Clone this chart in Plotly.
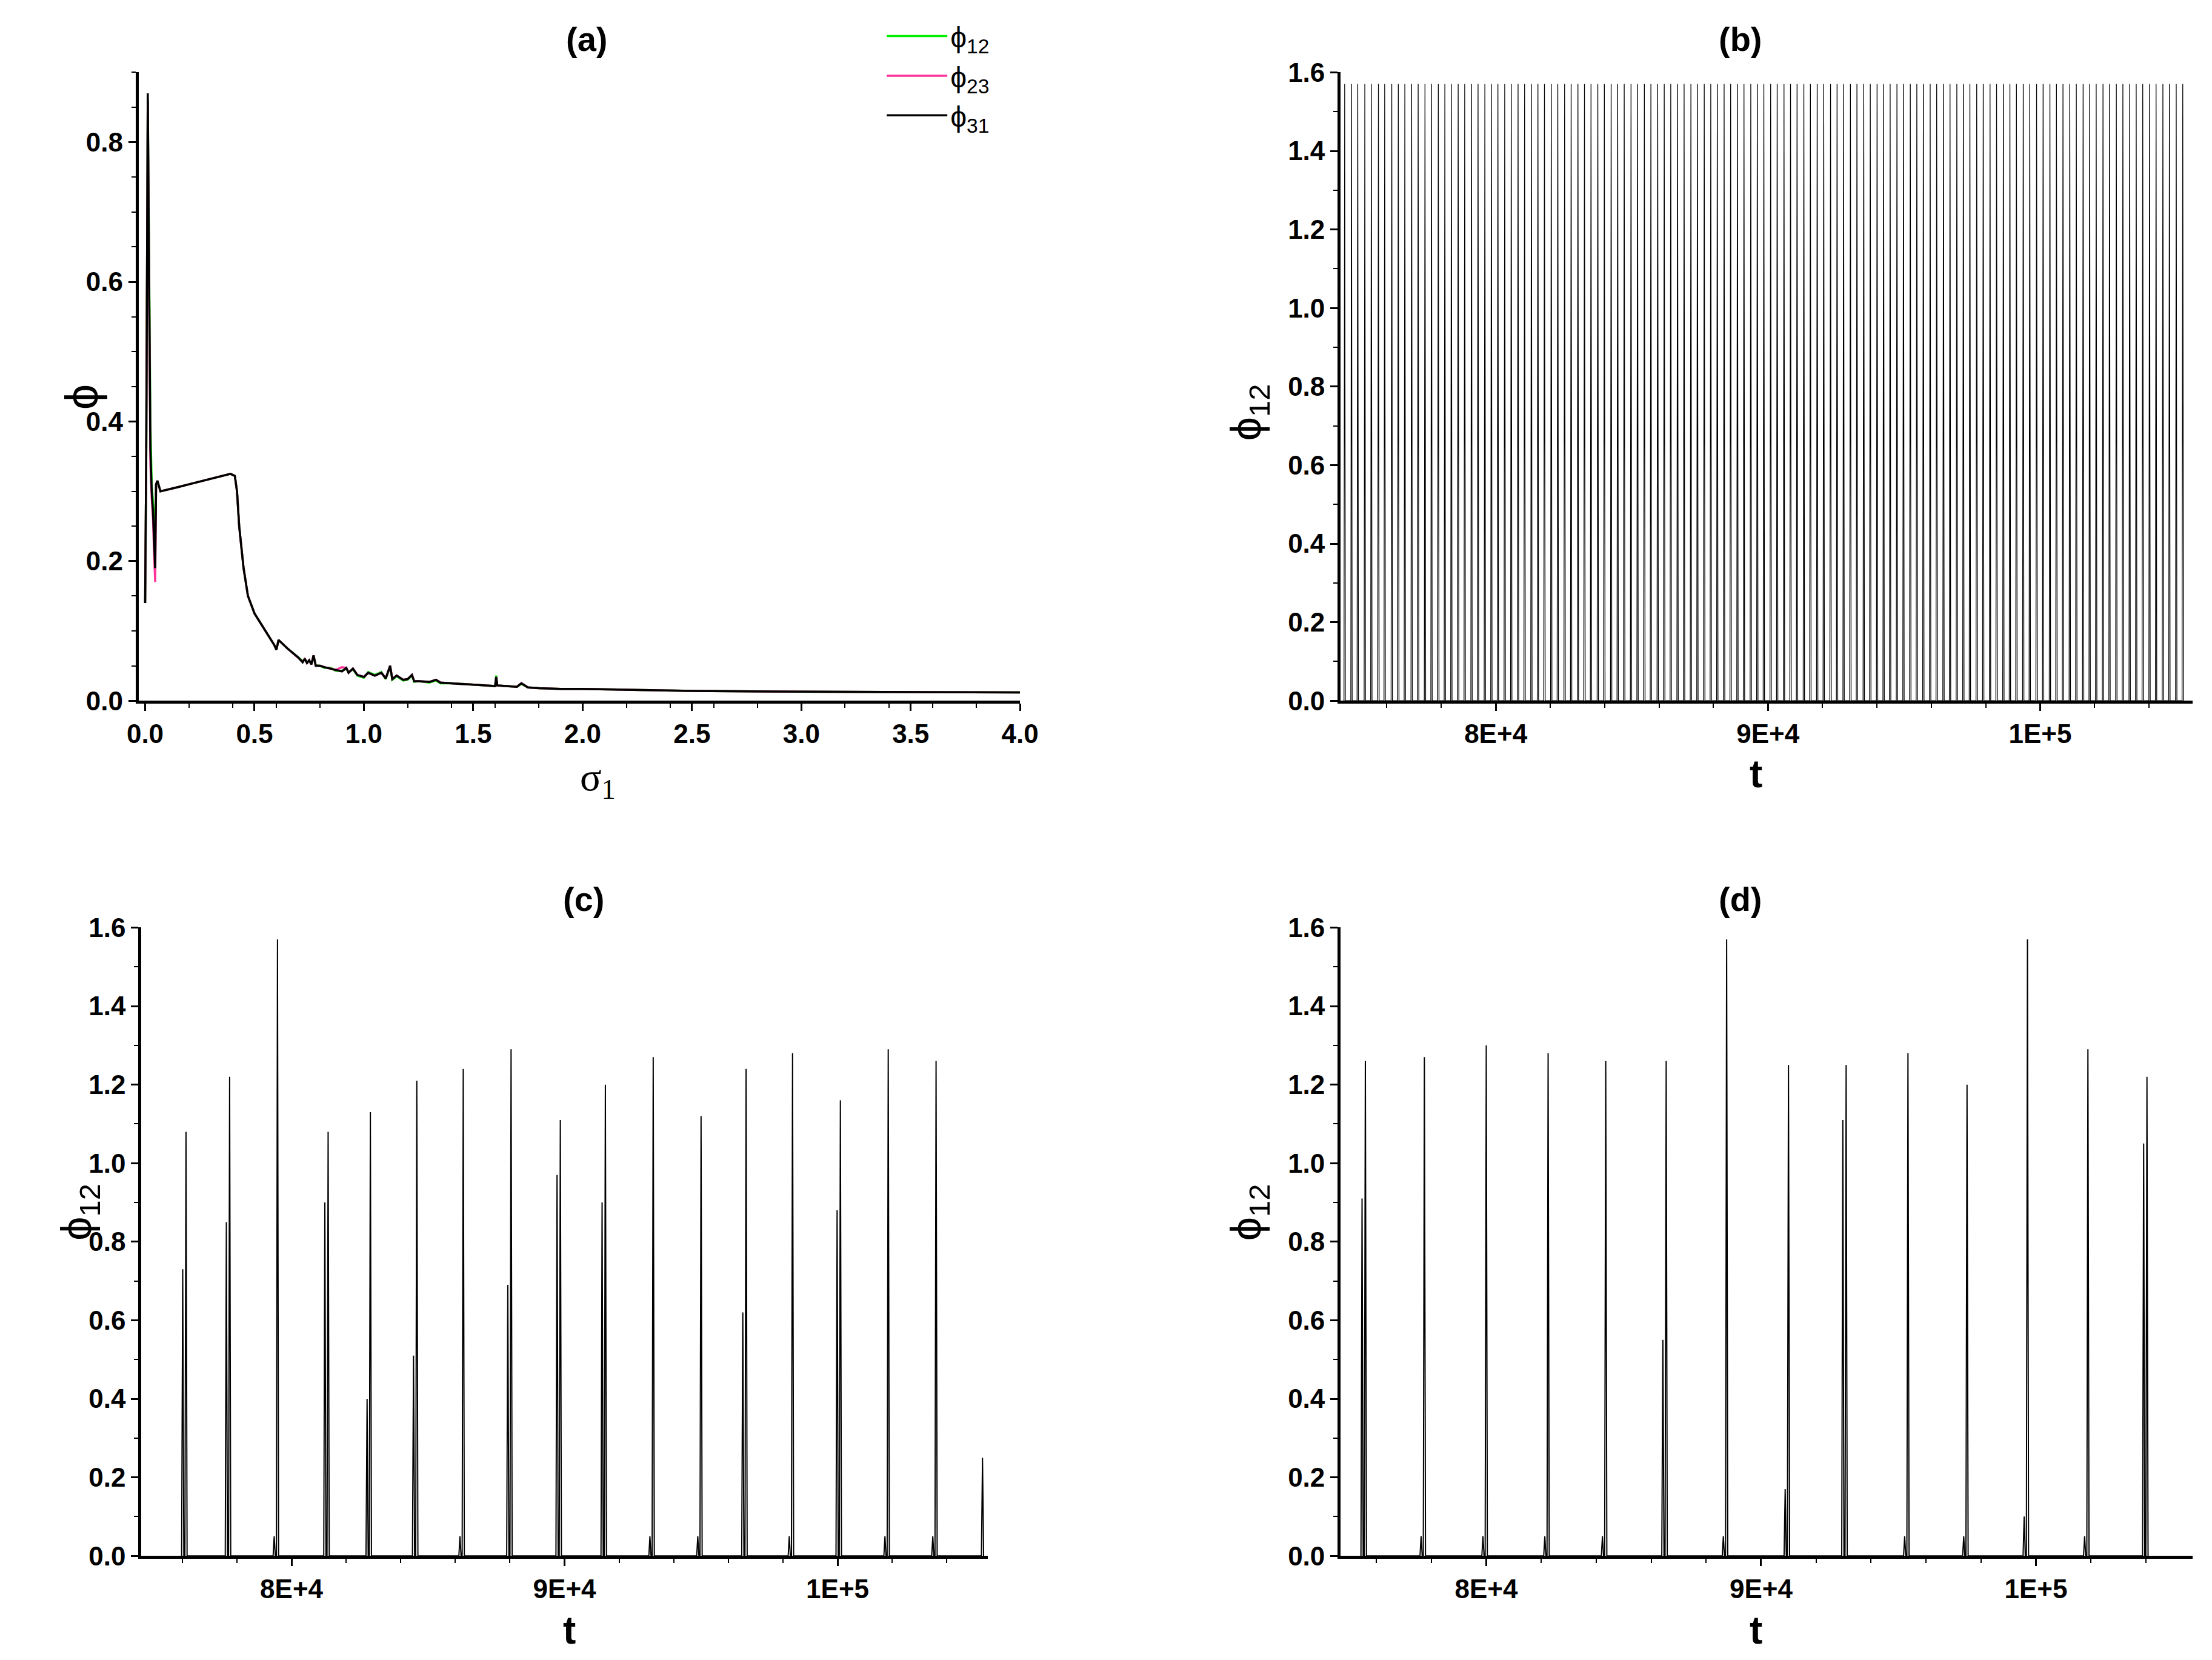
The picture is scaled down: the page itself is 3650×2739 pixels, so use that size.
import plotly.graph_objects as go

# Panel (a)
sig = [0.0,0.005,0.012,0.018,0.024,0.03,0.036,0.042,0.046,0.05,0.056,0.07,0.1,0.15,0.2,0.25,0.3,0.35,0.39,0.41,0.42,0.43,0.45,0.47,0.5,0.55,0.59,0.6,0.61,0.65,0.7,0.72,0.73,0.74,0.75,0.76,0.77,0.78,0.8,0.82,0.85,0.87,0.9,0.92,0.93,0.95,0.97,1.0,1.02,1.05,1.08,1.1,1.12,1.13,1.15,1.18,1.2,1.22,1.23,1.25,1.3,1.33,1.35,1.4,1.45,1.5,1.55,1.6,1.605,1.61,1.65,1.7,1.72,1.75,1.8,1.9,2.0,2.2,2.5,3.0,3.5,4.0]
phi31 = [0.14,0.35,0.87,0.60,0.36,0.30,0.27,0.22,0.19,0.31,0.315,0.30,0.302,0.306,0.31,0.314,0.318,0.322,0.325,0.322,0.30,0.25,0.19,0.15,0.125,0.10,0.08,0.073,0.087,0.075,0.062,0.055,0.06,0.054,0.058,0.052,0.065,0.05,0.05,0.048,0.046,0.044,0.042,0.047,0.040,0.046,0.037,0.034,0.040,0.036,0.040,0.032,0.050,0.031,0.036,0.030,0.031,0.037,0.028,0.028,0.027,0.030,0.026,0.025,0.024,0.023,0.022,0.021,0.034,0.022,0.021,0.020,0.025,0.019,0.018,0.017,0.017,0.016,0.014,0.013,0.0125,0.012]
phi12 = [0.14,0.35,0.86,0.62,0.40,0.31,0.28,0.26,0.24,0.31,0.315,0.30,0.302,0.306,0.31,0.314,0.318,0.322,0.325,0.322,0.30,0.25,0.19,0.15,0.125,0.10,0.08,0.073,0.087,0.075,0.062,0.057,0.06,0.055,0.057,0.053,0.064,0.051,0.05,0.047,0.047,0.043,0.043,0.046,0.041,0.045,0.036,0.033,0.041,0.037,0.041,0.031,0.049,0.030,0.035,0.029,0.030,0.036,0.027,0.028,0.026,0.029,0.025,0.025,0.024,0.023,0.022,0.021,0.036,0.022,0.021,0.020,0.024,0.019,0.018,0.017,0.017,0.016,0.014,0.013,0.0125,0.012]
phi23 = [0.14,0.35,0.86,0.58,0.34,0.29,0.26,0.20,0.17,0.31,0.315,0.30,0.302,0.306,0.31,0.314,0.318,0.322,0.325,0.322,0.30,0.25,0.19,0.15,0.125,0.10,0.08,0.073,0.087,0.075,0.062,0.056,0.06,0.054,0.058,0.052,0.065,0.05,0.05,0.048,0.046,0.044,0.048,0.047,0.040,0.046,0.037,0.034,0.040,0.036,0.040,0.032,0.050,0.031,0.036,0.030,0.031,0.037,0.028,0.028,0.027,0.030,0.026,0.025,0.024,0.023,0.022,0.021,0.034,0.022,0.021,0.020,0.025,0.019,0.018,0.017,0.017,0.016,0.014,0.013,0.0125,0.012]

# Panel (b): peak times, all peaks reach pi/2
b_peaks = [74450,74700,74930,75190,75430,75690,75920,76180,76420,76660,76910,77150,77400,77640,77890,78130,78370,78620,78860,79110,79350,79600,79840,80080,80330,80570,80820,81060,81310,81550,81790,82040,82280,82530,82770,83020,83260,83500,83750,83990,84240,84480,84720,84970,85210,85460,85700,85950,86190,86430,86680,86920,87170,87410,87660,87900,88140,88390,88630,88880,89120,89370,89610,89850,90100,90340,90590,90830,91070,91320,91560,91810,92050,92300,92540,92780,93030,93270,93520,93760,94010,94250,94490,94740,94980,95230,95470,95710,95960,96200,96450,96690,96940,97180,97420,97670,97910,98160,98400,98650,98890,99130,99380,99620,99870,100110,100360,100600,100840,101090,101330,101580,101820,102060,102310,102550,102800,103040,103290,103530,103770,104020,104260,104510,104750,105000,105240]
b_height = 1.5708

# Panel (c)
c_peaks = [76134,77732,79485,81340,82887,84588,86289,88041,89845,91495,93247,95000,96649,98351,100103,101856,103608,105309]
c_heights = [1.08,1.22,1.57,1.08,1.13,1.21,1.24,1.29,1.11,1.20,1.27,1.12,1.24,1.28,1.16,1.29,1.26,0.25]
c_second = [0.73,0.85,0.05,0.90,0.40,0.51,0.05,0.69,0.97,0.90,0.05,0.05,0.62,0.05,0.88,0.05,0.05,0.0]
# Panel (d)
d_peaks = [75601,77749,80000,82251,84348,86547,88747,90997,93095,95345,97494,99693,101893,104041]
d_heights = [1.26,1.27,1.30,1.28,1.26,1.26,1.57,1.25,1.25,1.28,1.20,1.57,1.29,1.22]
d_second = [0.91,0.05,0.05,0.05,0.05,0.55,0.05,0.17,1.11,0.05,0.05,0.10,0.05,1.05]

def spikes(peaks, heights, second, w):
    xs, ys = [], []
    for i, p in enumerate(peaks):
        s = second[i] if second else 0
        if s > 0:
            xs += [p-4*w, p-3*w, p-2*w]; ys += [0, s, 0]
        xs += [p-w, p, p+w]; ys += [0, heights[i], 0]
    return xs, ys

def PX(xr): return ((xr-8.5)/0.9945)/1560
def PY(yr): return 1-((yr-12.8)/0.9807)/1180

fig = go.Figure()
blk = dict(color="black", width=2)
fig.add_trace(go.Scatter(x=sig, y=phi12, mode="lines", name="ϕ<sub>12</sub>", line=dict(color="#00ee00", width=3.5), xaxis="x", yaxis="y"))
fig.add_trace(go.Scatter(x=sig, y=phi23, mode="lines", name="ϕ<sub>23</sub>", line=dict(color="#ff3399", width=3.5), xaxis="x", yaxis="y"))
fig.add_trace(go.Scatter(x=sig, y=phi31, mode="lines", name="ϕ<sub>31</sub>", line=dict(color="black", width=3.5), xaxis="x", yaxis="y"))
bx, by = spikes(b_peaks, [b_height]*len(b_peaks), None, 25)
fig.add_trace(go.Scatter(x=bx, y=by, mode="lines", line=dict(color="black", width=1.3), showlegend=False, xaxis="x2", yaxis="y2"))
cx, cy = spikes(c_peaks, c_heights, c_second, 40)
fig.add_trace(go.Scatter(x=cx, y=cy, mode="lines", line=blk, showlegend=False, xaxis="x3", yaxis="y3"))
dx, dy = spikes(d_peaks, d_heights, d_second, 40)
fig.add_trace(go.Scatter(x=dx, y=dy, mode="lines", line=blk, showlegend=False, xaxis="x4", yaxis="y4"))

tf = dict(family="Liberation Sans Narrow, Liberation Sans", size=44, color="black")
ax = dict(showline=True, linecolor="black", linewidth=5, ticks="outside", ticklen=12, tickwidth=3,
          minor=dict(ticks="outside", ticklen=7, tickwidth=2, tickcolor="black"),
          showgrid=False, zeroline=False, tickfont=tf, tickcolor="black")
tx = [80000, 90000, 100000]; tt = ["<b>8E+4</b>", "<b>9E+4</b>", "<b>1E+5</b>"]
yv = [0,0.2,0.4,0.6,0.8,1.0,1.2,1.4,1.6]
yt = ["<b>%.1f</b>" % v for v in yv]
top = [PY(496), PY(50)]; bot = [PY(1103), PY(657)]
fig.update_layout(
    width=3650, height=2739, margin=dict(l=0, r=0, t=0, b=0),
    plot_bgcolor="white", paper_bgcolor="white",
    xaxis=dict(ax, domain=[PX(95), PX(722)], range=[-0.03, 4.0], anchor="y",
               tickvals=[0,0.5,1,1.5,2,2.5,3,3.5,4], ticktext=["<b>%.1f</b>" % v for v in [0,0.5,1,1.5,2,2.5,3,3.5,4]]),
    yaxis=dict(ax, domain=top, range=[0, 0.9], anchor="x",
               tickvals=[0,0.2,0.4,0.6,0.8], ticktext=["<b>%.1f</b>" % v for v in [0,0.2,0.4,0.6,0.8]]),
    xaxis2=dict(ax, domain=[PX(950), PX(1556)], range=[74300, 105600], anchor="y2", tickvals=tx, ticktext=tt),
    yaxis2=dict(ax, domain=top, range=[0, 1.6], anchor="x2", tickvals=yv, ticktext=yt),
    xaxis3=dict(ax, domain=[PX(97), PX(699)], range=[74500, 105500], anchor="y3", tickvals=tx, ticktext=tt),
    yaxis3=dict(ax, domain=bot, range=[0, 1.6], anchor="x3", tickvals=yv, ticktext=yt),
    xaxis4=dict(ax, domain=[PX(950), PX(1556)], range=[74700, 105700], anchor="y4", tickvals=tx, ticktext=tt),
    yaxis4=dict(ax, domain=bot, range=[0, 1.6], anchor="x4", tickvals=yv, ticktext=yt),
    legend=dict(x=PX(625), y=PY(8), xanchor="left", yanchor="top", bgcolor="rgba(0,0,0,0)",
                font=dict(family="Liberation Sans", size=48, color="black"), tracegroupgap=8, itemwidth=100),
)
def ann(x, y, text, size=56, fam="Liberation Sans", angle=0):
    fig.add_annotation(x=PX(x), y=PY(y), xref="paper", yref="paper", text=text, showarrow=False,
                       font=dict(family=fam, size=size, color="black"), textangle=angle)
ann(398, 12, "<b>(a)</b>"); ann(1251, 12, "<b>(b)</b>")
ann(396, 637, "<b>(c)</b>"); ann(1251, 637, "<b>(d)</b>")
ann(408, 552, "σ<sub>1</sub>", 66, "Liberation Serif")
ann(1251, 548, "<b>t</b>", 64)
for p in [(396, 1172), (1251, 1172)]:
    ann(p[0], p[1], "<b>t</b>", 64)
ann(35, 270, "ϕ", 76, "Liberation Sans", -90)
for p in [(885, 270), (33, 880), (885, 880)]:
    ann(p[0], p[1], "ϕ<sub>12</sub>", 70, "Liberation Sans", -90)
fig.write_html("out.html")
